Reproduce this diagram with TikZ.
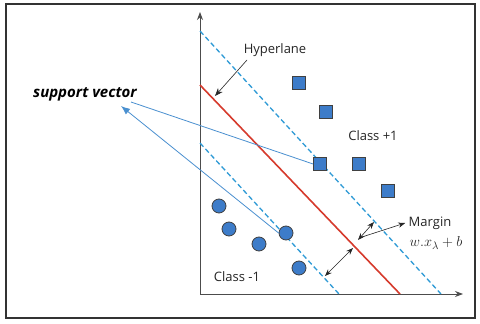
\documentclass[tikz,border=0pt]{standalone}
\usepackage{fontspec}
\setmainfont{Open Sans}
\usepackage{amsmath}
\usetikzlibrary{arrows.meta}

\definecolor{ptblue}{HTML}{3D7CC9}
\definecolor{dashblue}{HTML}{2E9AD6}
\definecolor{svline}{HTML}{4A90D0}
\definecolor{hypred}{HTML}{D63A2C}

\tikzset{
  sq/.style={draw=black!75,fill=ptblue,minimum size=13pt,inner sep=0pt,line width=0.8pt},
  pt/.style={circle,draw=black!75,fill=ptblue,minimum size=14pt,inner sep=0pt,line width=0.8pt},
  bound/.style={dashblue,line width=1.3pt,dash pattern=on 5pt off 3pt},
  lbl/.style={text=black!85,font=\fontsize{13}{15}\selectfont},
  marrow/.style={{Stealth[length=7pt]}-{Stealth[length=7pt]},black!85,line width=0.6pt}
}

\begin{document}
\begin{tikzpicture}[x=1pt,y=-1pt,>={Stealth[length=8pt]}]
  \fill[white] (0,0) rectangle (480,324);
  \useasboundingbox (0,0) rectangle (480,324);
  \draw[black!80,line width=1.6pt] (6,4) rectangle (475,318);

  % axes
  \coordinate (o) at (200,294);
  \draw[->,black!70,line width=1pt] (o) -- (200,12);
  \draw[->,black!70,line width=1pt] (o) -- (463,294);

  % hyperplane and margins
  \draw[hypred,line width=1.6pt] (200,85) -- (400,294);
  \draw[bound] (200,31) -- (441,294);
  \draw[bound] (200,143) -- (339,294);

  % class +1
  \node[sq] (s1) at (299,83) {};
  \node[sq] (s2) at (326,112) {};
  \node[sq] (s3) at (320,164) {};
  \node[sq] (s4) at (359,164) {};
  \node[sq] (s5) at (388,191) {};
  % class -1
  \node[pt] (c1) at (219,206) {};
  \node[pt] (c2) at (229,229) {};
  \node[pt] (c3) at (259,244) {};
  \node[pt] (c4) at (286,233) {};
  \node[pt] (c5) at (299,268) {};

  \node[lbl] (hyp) at (275,50) {Hyperlane};
  \node[lbl] (cp) at (373,136) {Class +1};
  \node[lbl] (cm) at (237,277) {Class -1};
  \node[lbl] (mrg) at (430,223) {Margin};
  \node[text=black!85,font=\fontsize{15}{17}\selectfont] (eq) at (436,243) {$w.x_\lambda+b$};
  \node[text=black,font=\fontsize{15}{17}\selectfont\bfseries\itshape] (sv) at (85,94) {support vector};

  \draw[->,black!85,line width=0.6pt] (247,60) -- (215,96);

  % support vector pointers
  \coordinate (sv1) at (131,102);
  \coordinate (sv2) at (121,106);
  \draw[svline,line width=0.8pt] (s3.west) -- (sv1);
  \draw[->,svline,line width=0.8pt,>={Latex[length=9pt,width=7pt]}] (c4.west) -- (sv2);

  % margin arrows
  \draw[marrow] (325,276) -- (353,248);
  \draw[marrow] (358,240) -- (374,222);
  \draw[-{Stealth[length=7pt]},black!85,line width=0.6pt] (362,237) -- (mrg.west);
\end{tikzpicture}
\end{document}
